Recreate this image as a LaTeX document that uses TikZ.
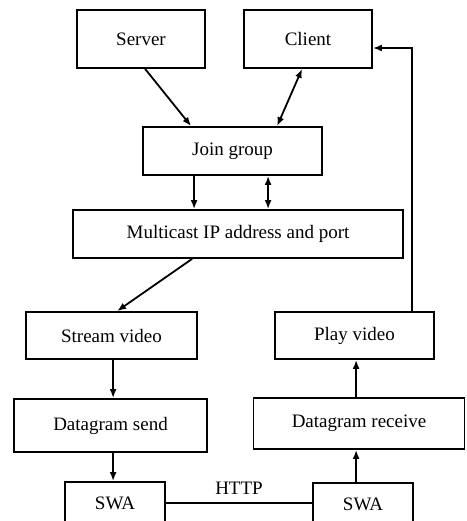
\documentclass[tikz,border=0pt]{standalone}
\usepackage{fontspec}
\setmainfont{Liberation Serif}
\usetikzlibrary{arrows.meta,calc}
\begin{document}
\begin{tikzpicture}[x=1pt,y=-1pt,
  every node/.style={font=\fontsize{19}{22}\selectfont},
  box/.style={draw,line width=1.8pt,inner sep=0pt,anchor=center},
  link/.style={line width=1.8pt,-{Latex[length=9pt,width=7pt]}},
  dlink/.style={line width=1.8pt,{Latex[length=9pt,width=7pt]}-{Latex[length=9pt,width=7pt]}}]
\useasboundingbox (0,0) rectangle (466,521);
% boxes
\node[box,minimum width=128pt,minimum height=58pt] (server) at (141,39) {Server};
\node[box,minimum width=128pt,minimum height=58pt] (client) at (308,39) {Client};
\node[box,minimum width=179pt,minimum height=48pt] (join) at (232.5,151) {Join group};
\node[box,minimum width=330pt,minimum height=48pt] (mcast) at (238,234) {Multicast IP address and port};
\node[box,minimum width=171pt,minimum height=47pt] (stream) at (111.5,335.5) {Stream video};
\node[box,minimum width=193pt,minimum height=53pt] (send) at (110.5,425.5) {Datagram send};
\node[box,minimum width=159pt,minimum height=47pt] (play) at (354.5,335.5) {Play video};
\node[box,minimum width=211pt,minimum height=51pt] (recv) at (359,423.5) {Datagram receive};
\node[box,minimum width=100pt,minimum height=42pt] (swaL) at (115,503) {SWA};
\node[box,minimum width=100pt,minimum height=42pt] (swaR) at (363,504) {SWA};
% connectors
\draw[link] ([xshift=69pt]server.south west) -- ([xshift=49pt]join.north west);
\draw[dlink] ([xshift=59pt]client.south west) -- ([xshift=135pt]join.north west);
\draw[link] ([xshift=52pt]join.south west) -- ([xshift=52pt]join.south west |- mcast.north);
\draw[dlink] ([xshift=126pt]join.south west) -- ([xshift=126pt]join.south west |- mcast.north);
\draw[link] ([xshift=120pt]mcast.south west) -- ([xshift=92pt]stream.north west);
\draw[link] ([xshift=88pt]stream.south west) -- ([xshift=88pt]stream.south west |- send.north);
\draw[link] ([xshift=100pt]send.south west) -- ([xshift=100pt]send.south west |- swaL.north);
\draw[link] ([xshift=44pt]swaR.north west) -- ([xshift=44pt]swaR.north west |- recv.south);
\draw[link] ([xshift=44pt]swaR.north west |- recv.north) -- ([xshift=44pt]swaR.north west |- play.south);
\draw[link] ([xshift=138pt]play.north west) |- ([yshift=-9pt]client.east);
\draw[line width=1.8pt] (swaL.east) -- node[above=4pt] {HTTP} (swaL.east -| swaR.west);
\end{tikzpicture}
\end{document}
